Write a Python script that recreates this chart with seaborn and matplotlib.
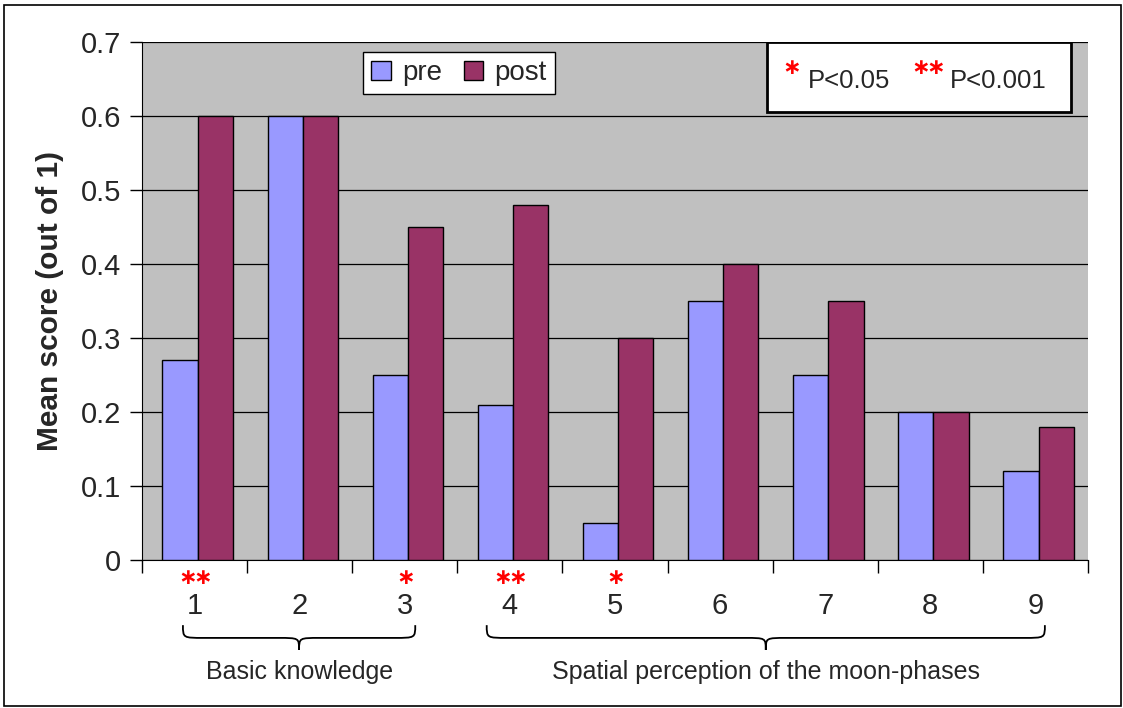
import matplotlib
matplotlib.use("Agg")
import matplotlib.pyplot as plt
import matplotlib.transforms as mtransforms
from matplotlib.path import Path
from matplotlib.patches import PathPatch, Rectangle
import seaborn as sns
import pandas as pd

# data
items = ["1", "2", "3", "4", "5", "6", "7", "8", "9"]
pre = [0.27, 0.60, 0.25, 0.21, 0.05, 0.35, 0.25, 0.20, 0.12]
post = [0.60, 0.60, 0.45, 0.48, 0.30, 0.40, 0.35, 0.20, 0.18]
stars = ["**", "", "*", "**", "*", "", "", "", ""]
groups = [("Basic knowledge", -0.11, 2.10), ("Spatial perception of the moon-phases", 2.78, 8.09)]

df = pd.DataFrame({
    "item": items * 2,
    "score": pre + post,
    "phase": ["pre"] * len(items) + ["post"] * len(items),
})

sns.set_style("white")
plt.rcParams["font.family"] = ["Liberation Sans", "DejaVu Sans"]
plt.rcParams["mathtext.fontset"] = "dejavusans"


def star_text(s):
    # mathtext asterisks, tight box
    return "$" + r"\!".join([r"\mathbf{\ast}"] * len(s)) + "$"


fig = plt.figure(figsize=(11.23, 7.08), dpi=100)
ax = fig.add_axes([0.1264, 0.209, 0.8424, 0.7317])
ax.set_facecolor("#C0C0C0")

sns.barplot(data=df, x="item", y="score", hue="phase", order=items,
            palette={"pre": "#9999FF", "post": "#993366"}, saturation=1,
            width=0.67, edgecolor="black", linewidth=1, ax=ax, zorder=3)

ax.set_ylim(0, 0.7)
ax.set_xlim(-0.53, 8.47)
ax.set_yticks([0, 0.1, 0.2, 0.3, 0.4, 0.5, 0.6, 0.7])
ax.set_yticklabels(["0", "0.1", "0.2", "0.3", "0.4", "0.5", "0.6", "0.7"], fontsize=21)
ax.yaxis.grid(True, color="black", linewidth=0.9, zorder=1)
ax.set_axisbelow(True)
ax.tick_params(axis="y", length=9, width=1, color="black", direction="out", left=True, pad=6)

# x ticks at category boundaries, labels drawn as text
ax.set_xticks([i - 0.53 for i in range(10)])
ax.set_xticklabels([])
ax.tick_params(axis="x", length=9, width=1, color="black", direction="out", bottom=True)
ax.set_xlabel("")
ax.set_ylabel("Mean score (out of 1)", fontsize=21.5, fontweight="bold", labelpad=12)

for side in ["top", "right"]:
    ax.spines[side].set_visible(False)
ax.spines["left"].set_color("black")
ax.spines["bottom"].set_color("black")

trans = mtransforms.blended_transform_factory(ax.transData, fig.transFigure)
for i, lab in enumerate(items):
    ax.text(i - 0.03, 0.144, lab, transform=trans, ha="center", va="center", fontsize=21)
    if stars[i]:
        ax.text(i - 0.03, 0.183, star_text(stars[i]), transform=trans, ha="center", va="center",
                fontsize=16, color="red")

# braces under the item groups
def brace(x0, x1, ytop=0.117, ymid=0.099, ybot=0.082):
    xc = (x0 + x1) / 2
    r = 0.2
    verts = [
        (x0, ytop), (x0, ymid), (x0, ymid), (x0 + r, ymid),
        (xc - r, ymid), (xc, ymid), (xc, ymid), (xc, ybot),
        (xc, ymid), (xc, ymid), (xc + r, ymid),
        (x1 - r, ymid), (x1, ymid), (x1, ymid), (x1, ytop),
    ]
    codes = [Path.MOVETO, Path.CURVE4, Path.CURVE4, Path.CURVE4,
             Path.LINETO, Path.CURVE4, Path.CURVE4, Path.CURVE4,
             Path.CURVE4, Path.CURVE4, Path.CURVE4,
             Path.LINETO, Path.CURVE4, Path.CURVE4, Path.CURVE4]
    ax.add_patch(PathPatch(Path(verts, codes), transform=trans, fill=False,
                           edgecolor="black", linewidth=1.3, clip_on=False))

for name, x0, x1 in groups:
    brace(x0 - 0.03, x1 - 0.03)
    ax.text((x0 + x1) / 2 - 0.03, 0.051, name, transform=trans, ha="center", va="center", fontsize=18)

# legend pre/post
leg = ax.legend(loc="upper left", bbox_to_anchor=(0.2336, 0.981), ncol=2, fontsize=20,
                frameon=True, fancybox=False, edgecolor="black", framealpha=1,
                handlelength=0.7, handleheight=0.7, handletextpad=0.4, columnspacing=0.8,
                borderpad=0.3, borderaxespad=0)
leg.get_frame().set_linewidth(1)

# significance key box
ax.add_patch(Rectangle((0.661, 0.865), 0.321, 0.135, transform=ax.transAxes,
                       facecolor="white", edgecolor="black", linewidth=2, zorder=5))
ax.text(0.677, 0.948, star_text("*"), transform=ax.transAxes, color="red", fontsize=16,
        ha="left", va="center", zorder=6)
ax.text(0.704, 0.925, "P<0.05", transform=ax.transAxes, fontsize=18.5, ha="left", va="center", zorder=6)
ax.text(0.813, 0.948, star_text("**"), transform=ax.transAxes, color="red", fontsize=16,
        ha="left", va="center", zorder=6)
ax.text(0.854, 0.925, "P<0.001", transform=ax.transAxes, fontsize=18.5, ha="left", va="center", zorder=6)

# outer border of the figure
fig.add_artist(Rectangle((0.004, 0.003), 0.994, 0.99, transform=fig.transFigure,
                         fill=False, edgecolor="black", linewidth=1.2))

fig.savefig("out.png", dpi=100)
